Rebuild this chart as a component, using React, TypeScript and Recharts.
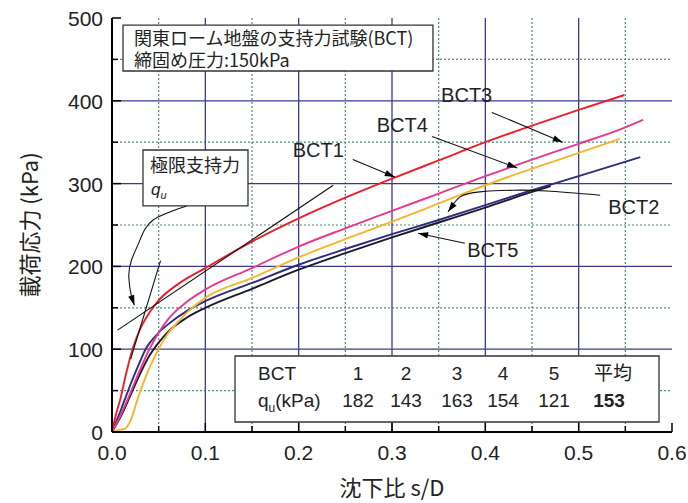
import React from 'react';
import {
  ComposedChart,
  Line,
  XAxis,
  YAxis,
  CartesianGrid,
  ReferenceArea,
  ReferenceDot,
} from 'recharts';

type Pt = [number, number];

// ---- data (s/D, kPa) ----
const bct1: Pt[] = [[0,0],[0.004,20],[0.009,40],[0.015,70],[0.022,100],[0.03,124],[0.04,144],[0.05,159],[0.07,178],[0.1,198],[0.15,230],[0.2,258],[0.25,283],[0.3,306],[0.35,328],[0.4,350],[0.45,370],[0.5,389],[0.549,407]];
const bct3: Pt[] = [[0,0],[0.01,22],[0.02,48],[0.03,75],[0.04,100],[0.05,120],[0.06,136],[0.08,157],[0.1,172],[0.15,198],[0.2,224],[0.25,246],[0.3,267],[0.35,288],[0.4,309],[0.45,329],[0.5,348],[0.55,368],[0.569,377]];
const bct4: Pt[] = [[0,0],[0.006,2],[0.014,4],[0.02,14],[0.028,42],[0.038,72],[0.048,96],[0.06,119],[0.07,132],[0.085,149],[0.1,162],[0.15,186],[0.2,211],[0.25,233],[0.3,254],[0.35,276],[0.4,298],[0.45,318],[0.5,337],[0.544,354]];
const bct2: Pt[] = [[0,0],[0.01,28],[0.02,58],[0.03,85],[0.036,100],[0.04,107],[0.05,120],[0.06,130],[0.08,146],[0.1,158],[0.15,180],[0.2,202],[0.25,221],[0.3,239],[0.35,256],[0.4,274],[0.45,292],[0.5,309],[0.566,332]];
const bct5: Pt[] = [[0,0],[0.01,20],[0.02,45],[0.03,70],[0.04,92],[0.05,108],[0.06,121],[0.08,138],[0.1,150],[0.15,173],[0.2,196],[0.25,216],[0.3,235],[0.35,253],[0.4,271],[0.45,290],[0.47,297]];

// tangent lines for ultimate bearing capacity
const tangentA: Pt[] = [[0.006,123],[0.237,298]];
const tangentB: Pt[] = [[0.02,88],[0.052,207]];

// annotation arrows (tail ... tip)
const arrowQu: Pt[] = [[0.08,273],[0.044,256],[0.03,232],[0.021,208],[0.018,187],[0.021,163],[0.024,153]];
const arrowBct1: Pt[] = [[0.258,329],[0.303,308]];
const arrowBct4: Pt[] = [[0.343,357],[0.434,319]];
const arrowBct3: Pt[] = [[0.407,386],[0.483,350]];
const arrowBct2: Pt[] = [[0.523,286],[0.466,291],[0.43,292],[0.394,290],[0.373,284],[0.364,272],[0.36,266]];
const arrowBct5: Pt[] = [[0.378,228],[0.328,240]];

const seriesLabels = [
  { text: 'BCT1', x: 0.221, y: 341 },
  { text: 'BCT4', x: 0.311, y: 371 },
  { text: 'BCT3', x: 0.380, y: 407 },
  { text: 'BCT2', x: 0.559, y: 272 },
  { text: 'BCT5', x: 0.408, y: 220 },
];

const xTicks = [0,0.05,0.1,0.15,0.2,0.25,0.3,0.35,0.4,0.45,0.5,0.55,0.6];
const yTicks = [0,50,100,150,200,250,300,350,400,450,500];
const xMajor = [0.1,0.2,0.3,0.4,0.5];
const xMinor = [0.05,0.15,0.25,0.35,0.45,0.55];
const yMajor = [100,200,300,400];
const yMinor = [50,150,250,350,450];

const titleLines = ['関東ローム地盤の支持力試験(BCT)', '締固め圧力:150kPa'];
const quTitle = '極限支持力';
const tableHead = ['1','2','3','4','5','平均'];
const tableVals = ['182','143','163','154','121','153'];

// ---- layout ----
const W = 688, H = 503;
const PL = 112, PR = 672, PT = 18, PB = 432;
const PX = (PR - PL) / 0.6;
const PY = (PB - PT) / 500;

const LATIN = "'Liberation Sans', Arial, 'Noto Sans CJK JP', sans-serif";
const JP = "'Noto Sans CJK JP', 'Liberation Sans', sans-serif";

const toObj = (pts: Pt[]) => pts.map(([x, y]) => ({ x, y }));

const isMajorX = (v: number) => Math.abs(v * 10 - Math.round(v * 10)) < 1e-6;
const isMajorY = (v: number) => Math.abs(v / 100 - Math.round(v / 100)) < 1e-6;

const BottomTick = (p: any) => {
  const { x, y, payload } = p;
  const v = payload.value;
  const maj = isMajorX(v);
  return (
    <g>
      <line x1={x} y1={y} x2={x} y2={y - (maj ? 9 : 6)} stroke="#000" strokeWidth={1.5} />
      {maj || v === 0 ? (
        <text x={x} y={y + 28} textAnchor="middle" fontSize={21} fontFamily={LATIN} fill="#222">
          {v.toFixed(1)}
        </text>
      ) : null}
    </g>
  );
};
const TopTick = (p: any) => {
  const { x, y, payload } = p;
  const maj = isMajorX(payload.value);
  return <line x1={x} y1={y} x2={x} y2={y + (maj ? 9 : 6)} stroke="#000" strokeWidth={1.5} />;
};
const LeftTick = (p: any) => {
  const { x, y, payload } = p;
  const v = payload.value;
  const maj = isMajorY(v);
  return (
    <g>
      <line x1={x} y1={y} x2={x + (maj ? 9 : 6)} y2={y} stroke="#000" strokeWidth={1.5} />
      {maj ? (
        <text x={x - 9} y={y + 8} textAnchor="end" fontSize={21} fontFamily={LATIN} fill="#222">
          {v}
        </text>
      ) : null}
    </g>
  );
};
const RightTick = (p: any) => {
  const { x, y, payload } = p;
  const maj = isMajorY(payload.value);
  return <line x1={x} y1={y} x2={x - (maj ? 9 : 6)} y2={y} stroke="#000" strokeWidth={1.5} />;
};

const arrowDot = (pts: Pt[]) => (props: any) => {
  const { cx, cy, index } = props;
  if (index !== pts.length - 1 || cx == null || cy == null) return <g key={`d${index}`} />;
  const [x0, y0] = pts[pts.length - 2];
  const [x1, y1] = pts[pts.length - 1];
  const a = Math.atan2(-(y1 - y0) * PY, (x1 - x0) * PX);
  const L = 10, Wd = 3.2;
  const bx = cx - L * Math.cos(a), by = cy - L * Math.sin(a);
  const pts2 = `${cx},${cy} ${bx - Wd * Math.sin(a)},${by + Wd * Math.cos(a)} ${bx + Wd * Math.sin(a)},${by - Wd * Math.cos(a)}`;
  return <polygon key={`d${index}`} points={pts2} fill="#000" />;
};

const curves = [
  { key: 'bct5', pts: bct5, color: '#1c1a2e' },
  { key: 'bct2', pts: bct2, color: '#2f2c7e' },
  { key: 'bct4', pts: bct4, color: '#f4b62c' },
  { key: 'bct3', pts: bct3, color: '#e8398f' },
  { key: 'bct1', pts: bct1, color: '#ea1f2a' },
];

const arrows = [
  { key: 'aqu', pts: arrowQu, type: 'natural' },
  { key: 'a1', pts: arrowBct1, type: 'linear' },
  { key: 'a4', pts: arrowBct4, type: 'linear' },
  { key: 'a3', pts: arrowBct3, type: 'linear' },
  { key: 'a2', pts: arrowBct2, type: 'natural' },
  { key: 'a5', pts: arrowBct5, type: 'linear' },
];

const TitleBox = (p: any) => {
  const { x, y } = p.viewBox;
  return (
    <g fontFamily={JP} fontSize={18} fill="#222">
      <text x={x + 11} y={y + 20}>{titleLines[0]}</text>
      <text x={x + 11} y={y + 42}>{titleLines[1]}</text>
    </g>
  );
};

const QuBox = (p: any) => {
  const { x, y } = p.viewBox;
  return (
    <g fill="#222">
      <text x={x + 7} y={y + 22} fontFamily={JP} fontSize={18}>{quTitle}</text>
      <text x={x + 8} y={y + 45} fontFamily={LATIN} fontSize={17} fontStyle="italic">
        q<tspan fontSize={11} dy={4}>u</tspan>
      </text>
    </g>
  );
};

const colOffsets = [123, 171, 222, 268, 319, 378];
const TableBox = (p: any) => {
  const { x, y } = p.viewBox;
  return (
    <g fill="#222" fontSize={19} fontFamily={LATIN}>
      <text x={x + 23} y={y + 24}>BCT</text>
      <text x={x + 23} y={y + 51}>
        q<tspan fontSize={12} dy={5}>u</tspan>
        <tspan dy={-5}>(kPa)</tspan>
      </text>
      {tableHead.map((t, i) => (
        <text key={'h' + i} x={x + colOffsets[i]} y={y + 24} textAnchor="middle" fontFamily={i === 5 ? JP : LATIN}>
          {t}
        </text>
      ))}
      {tableVals.map((t, i) => (
        <text key={'v' + i} x={x + colOffsets[i] - (i === 5 ? 4 : 0)} y={y + 51} textAnchor="middle" fontWeight={i === 5 ? 'bold' : 'normal'}>
          {t}
        </text>
      ))}
    </g>
  );
};

export default function App() {
  return (
    <div style={{ position: 'absolute', left: 0, top: 0, width: W, height: H, background: '#fff' }}>
      <ComposedChart width={W} height={H} margin={{ top: PT, right: W - PR, left: 0, bottom: 0 }}>
        <CartesianGrid
          horizontalValues={yMinor}
          verticalValues={xMinor}
          stroke="#4f8a78"
          strokeDasharray="2 2"
          strokeWidth={1.2}
        />
        <CartesianGrid
          horizontalValues={yMajor}
          verticalValues={xMajor}
          stroke="#3b3a8c"
          strokeWidth={1.3}
        />
        <XAxis
          type="number"
          dataKey="x"
          domain={[0, 0.6]}
          ticks={xTicks}
          interval={0}
          allowDataOverflow
          height={H - PB}
          tickSize={0}
          tickMargin={0}
          tick={<BottomTick />}
          axisLine={{ stroke: '#000', strokeWidth: 2 }}
          label={{
            content: (p: any) => {
              const vb = p.viewBox;
              return (
                <text x={vb.x + vb.width / 2} y={vb.y + 64} textAnchor="middle" fontSize={22} fontFamily={JP} fill="#222">
                  沈下比 s/D
                </text>
              );
            },
          }}
        />
        <XAxis
          xAxisId="top"
          orientation="top"
          type="number"
          dataKey="x"
          domain={[0, 0.6]}
          ticks={xTicks}
          interval={0}
          allowDataOverflow
          height={0}
          tickSize={0}
          tickMargin={0}
          tick={<TopTick />}
          axisLine={{ stroke: '#000', strokeWidth: 2 }}
        />
        <YAxis
          type="number"
          domain={[0, 500]}
          ticks={yTicks}
          interval={0}
          allowDataOverflow
          width={PL}
          tickSize={0}
          tickMargin={0}
          tick={<LeftTick />}
          axisLine={{ stroke: '#000', strokeWidth: 2 }}
          label={{
            content: (p: any) => {
              const vb = p.viewBox;
              const cx = vb.x + 28;
              const cy = vb.y + vb.height / 2;
              return (
                <text x={cx} y={cy} transform={`rotate(-90 ${cx} ${cy})`} textAnchor="middle" dominantBaseline="central" fontSize={22} fontFamily={JP} fill="#222">
                  載荷応力 (kPa)
                </text>
              );
            },
          }}
        />
        <YAxis
          yAxisId="right"
          orientation="right"
          type="number"
          domain={[0, 500]}
          ticks={yTicks}
          interval={0}
          allowDataOverflow
          width={0}
          tickSize={0}
          tickMargin={0}
          tick={<RightTick />}
          axisLine={{ stroke: '#000', strokeWidth: 2 }}
        />

        <ReferenceArea x1={0.0118} x2={0.3439} y1={436} y2={491.5} fill="#fff" fillOpacity={1} stroke="#333" strokeWidth={1.3} label={{ content: TitleBox }} ifOverflow="visible" />
        <ReferenceArea x1={0.0332} x2={0.1457} y1={273} y2={340.6} fill="#fff" fillOpacity={1} stroke="#333" strokeWidth={1.3} label={{ content: QuBox }} ifOverflow="visible" />
        <ReferenceArea x1={0.1318} x2={0.5861} y1={12.1} y2={91.8} fill="#fff" fillOpacity={1} stroke="#333" strokeWidth={1.3} label={{ content: TableBox }} ifOverflow="visible" />

        {curves.map((c) => (
          <Line
            key={c.key}
            data={toObj(c.pts)}
            dataKey="y"
            type="monotone"
            stroke={c.color}
            strokeWidth={1.9}
            dot={false}
            activeDot={false}
            isAnimationActive={false}
          />
        ))}

        {[tangentA, tangentB].map((t, i) => (
          <Line
            key={'t' + i}
            data={toObj(t)}
            dataKey="y"
            type="linear"
            stroke="#111"
            strokeWidth={1.1}
            dot={false}
            activeDot={false}
            isAnimationActive={false}
          />
        ))}

        {arrows.map((a) => (
          <Line
            key={a.key}
            data={toObj(a.pts)}
            dataKey="y"
            type={a.type as any}
            stroke="#111"
            strokeWidth={1.1}
            dot={arrowDot(a.pts)}
            activeDot={false}
            isAnimationActive={false}
          />
        ))}

        {seriesLabels.map((l) => (
          <ReferenceDot
            key={l.text}
            x={l.x}
            y={l.y}
            r={0}
            fill="none"
            stroke="none"
            ifOverflow="visible"
            label={{ value: l.text, position: 'center', fontSize: 20, fontFamily: LATIN, fill: '#222' }}
          />
        ))}
      </ComposedChart>
    </div>
  );
}
